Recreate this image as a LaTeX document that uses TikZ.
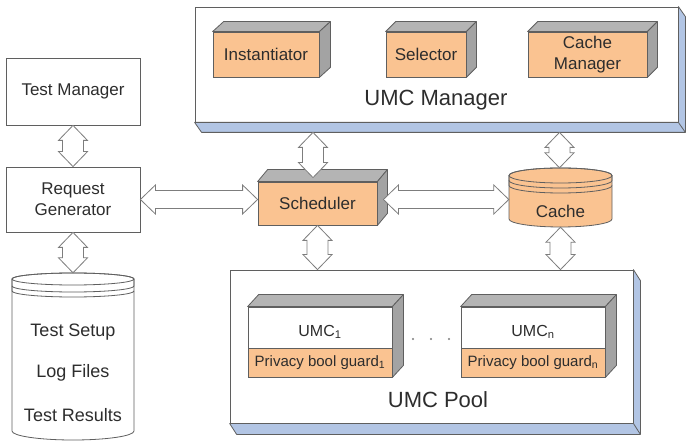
\documentclass[tikz,border=0pt]{standalone}
\usepackage{fontspec}
\setmainfont{Liberation Sans}
\usetikzlibrary{calc}
\definecolor{orng}{RGB}{250,195,145}
\definecolor{blu}{RGB}{178,197,228}
\definecolor{edge}{RGB}{95,95,95}
\definecolor{txt}{RGB}{45,45,45}
\definecolor{topg}{RGB}{180,180,180}
\definecolor{sideg}{RGB}{163,163,163}
\definecolor{arrg}{RGB}{125,125,125}
\tikzset{
  plain/.style={draw=edge, line width=0.8pt, fill=white, text=txt, inner sep=0pt, align=center, font=\fontsize{17}{21}\selectfont},
  obox/.style={plain, fill=orng},
  face/.style={draw=edge, line width=0.8pt, line join=round},
  dbl/.style={draw=arrg, line width=0.8pt, fill=white, line join=miter},
  big/.style={font=\fontsize{22}{26}\selectfont, text=txt},
  lbl/.style={font=\fontsize{17}{21}\selectfont, text=txt},
  dblbl/.style={font=\fontsize{18}{22}\selectfont, text=txt},
  guard/.style={obox, font=\fontsize{15}{18}\selectfont},
}
\newcommand\cubefaces[3]{%
  \filldraw[face, fill=topg] (#1.north west) -- ++(#2,#3) -- ($(#1.north east)+(#2,#3)$) -- (#1.north east) -- cycle;
  \filldraw[face, fill=sideg] (#1.north east) -- ($(#1.north east)+(#2,#3)$) -- ($(#1.south east)+(#2,#3)$) -- (#1.south east) -- cycle;}
\newcommand\slabfaces[3]{%
  \filldraw[face, fill=blu] (#1.south west) -- ++(#2,#3) -- ($(#1.south east)+(#2,#3)$) -- ($(#1.north east)+(#2,#3)$) -- (#1.north east) -- (#1.south east) -- cycle;
  \draw[face] (#1.south east) -- ++(#2,#3);}
\newcommand\varr[2]{%
  \filldraw[dbl] ($#1$) -- ($#1+(14.5,15)$) -- ($#1+(10.5,15)$) -- ($#2+(10.5,-15)$) -- ($#2+(14.5,-15)$) -- ($#2$) -- ($#2+(-14.5,-15)$) -- ($#2+(-10.5,-15)$) -- ($#1+(-10.5,15)$) -- ($#1+(-14.5,15)$) -- cycle;}
\newcommand\harr[2]{%
  \filldraw[dbl] ($#1$) -- ($#1+(15,-14.5)$) -- ($#1+(15,-9)$) -- ($#2+(-15,-9)$) -- ($#2+(-15,-14.5)$) -- ($#2$) -- ($#2+(-15,14.5)$) -- ($#2+(-15,9)$) -- ($#1+(15,9)$) -- ($#1+(15,14.5)$) -- cycle;}
\begin{document}
\begin{tikzpicture}[x=1pt,y=-1pt]
\useasboundingbox (0,0) rectangle (688,446);
% left column
\node[plain, minimum width=134, minimum height=67] (tm) at (73,91.5) {Test Manager};
\node[plain, minimum width=134, minimum height=65] (rg) at (73,199.5) {Request\\Generator};
\node[minimum width=122, minimum height=168, inner sep=0pt] (db) at (73,357) {};
\filldraw[face, fill=white] (12,279) -- (12,431) arc[start angle=180, end angle=0, x radius=61, y radius=9] -- (134,279) arc[start angle=0, end angle=-180, x radius=61, y radius=6] -- cycle;
\draw[face] (73,279) ellipse[x radius=61, y radius=6];
\draw[face] (12,279) -- (12,286) arc[start angle=180, end angle=0, x radius=61, y radius=6] -- (134,279);
\draw[face] (12,286) -- (12,291) arc[start angle=180, end angle=0, x radius=61, y radius=6];
\node[dblbl] (ts) at (73,332) {Test Setup};
\node[dblbl] (lf) at (73,373) {Log Files};
\node[dblbl] (tr) at (73,415) {Test Results};
% UMC Manager
\node[plain, minimum width=483, minimum height=115] (umcm) at (436.5,64.5) {};
\slabfaces{umcm}{7}{10}
\node[big] (umcmt) at (436,100) {UMC Manager};
\node[obox, minimum width=106, minimum height=45] (inst) at (266,54.5) {Instantiator};
\cubefaces{inst}{11}{-10}
\node[obox, minimum width=80, minimum height=45] (sel) at (426,54.5) {Selector};
\cubefaces{sel}{10}{-10}
\node[obox, minimum width=119, minimum height=45] (cm) at (587.5,54.5) {Cache\\Manager};
\cubefaces{cm}{10}{-10}
% Scheduler
\node[obox, minimum width=119, minimum height=43] (sched) at (317.5,203.5) {Scheduler};
\cubefaces{sched}{10}{-12}
% Cache
\node[minimum width=103, minimum height=59, inner sep=0pt] (cache) at (560.5,197.5) {};
\filldraw[face, fill=orng] (509,175.5) -- (509,219) arc[start angle=180, end angle=0, x radius=51.5, y radius=8] -- (612,175.5) arc[start angle=0, end angle=-180, x radius=51.5, y radius=7.5] -- cycle;
\draw[face] (560.5,175.5) ellipse[x radius=51.5, y radius=7.5];
\draw[face] (509,175.5) -- (509,180.5) arc[start angle=180, end angle=0, x radius=51.5, y radius=7.5] -- (612,175.5);
\draw[face] (509,180.5) -- (509,185.5) arc[start angle=180, end angle=0, x radius=51.5, y radius=7.5];
\node[lbl] (cachet) at (560.5,211) {Cache};
% UMC Pool
\node[plain, minimum width=403, minimum height=153] (pool) at (431.5,346.5) {};
\slabfaces{pool}{7}{11}
\node[big] (poolt) at (438,400) {UMC Pool};
\node[plain, minimum width=144, minimum height=70] (u1) at (320,342) {};
\node[guard, minimum width=144, minimum height=29, anchor=south] (g1) at (u1.south) {Privacy bool guard\textsubscript{1}};
\cubefaces{u1}{11}{-12}
\node[lbl, font=\fontsize{16}{20}\selectfont] (u1t) at (320,332) {UMC\textsubscript{1}};
\node[plain, minimum width=144, minimum height=70] (un) at (533,342) {};
\node[guard, minimum width=144, minimum height=29, anchor=south] (gn) at (un.south) {Privacy bool guard\textsubscript{n}};
\cubefaces{un}{11}{-12}
\node[lbl, font=\fontsize{16}{20}\selectfont] (unt) at (533,332) {UMC\textsubscript{n}};
\fill[arrg] (413,339) circle[radius=1.2] (431,339) circle[radius=1.2] (449,339) circle[radius=1.2];
% connectors
\varr{(tm.south)}{(rg.north)}
\varr{(rg.south)}{(db.north)}
\harr{(rg.east)}{(rg.east -| sched.west)}
\coordinate (sc1) at ($(sched.east)+(6,-4)$);
\coordinate (sc2) at (sc1 -| cache.west);
\harr{(sc1)}{(sc2)}
\coordinate (us1) at ($(sched.north |- umcm.south)+(-4.5,10)$);
\coordinate (us2) at ($(sched.north)+(-4.5,-4)$);
\varr{(us1)}{(us2)}
\coordinate (cc1) at ($(cache.north |- umcm.south)+(-1,10)$);
\coordinate (cc2) at ($(cache.north)+(-1,0)$);
\varr{(cc1)}{(cc2)}
\varr{(sched.south)}{(sched.south |- pool.north)}
\varr{(cache.south)}{(cache.south |- pool.north)}
\end{tikzpicture}
\end{document}
